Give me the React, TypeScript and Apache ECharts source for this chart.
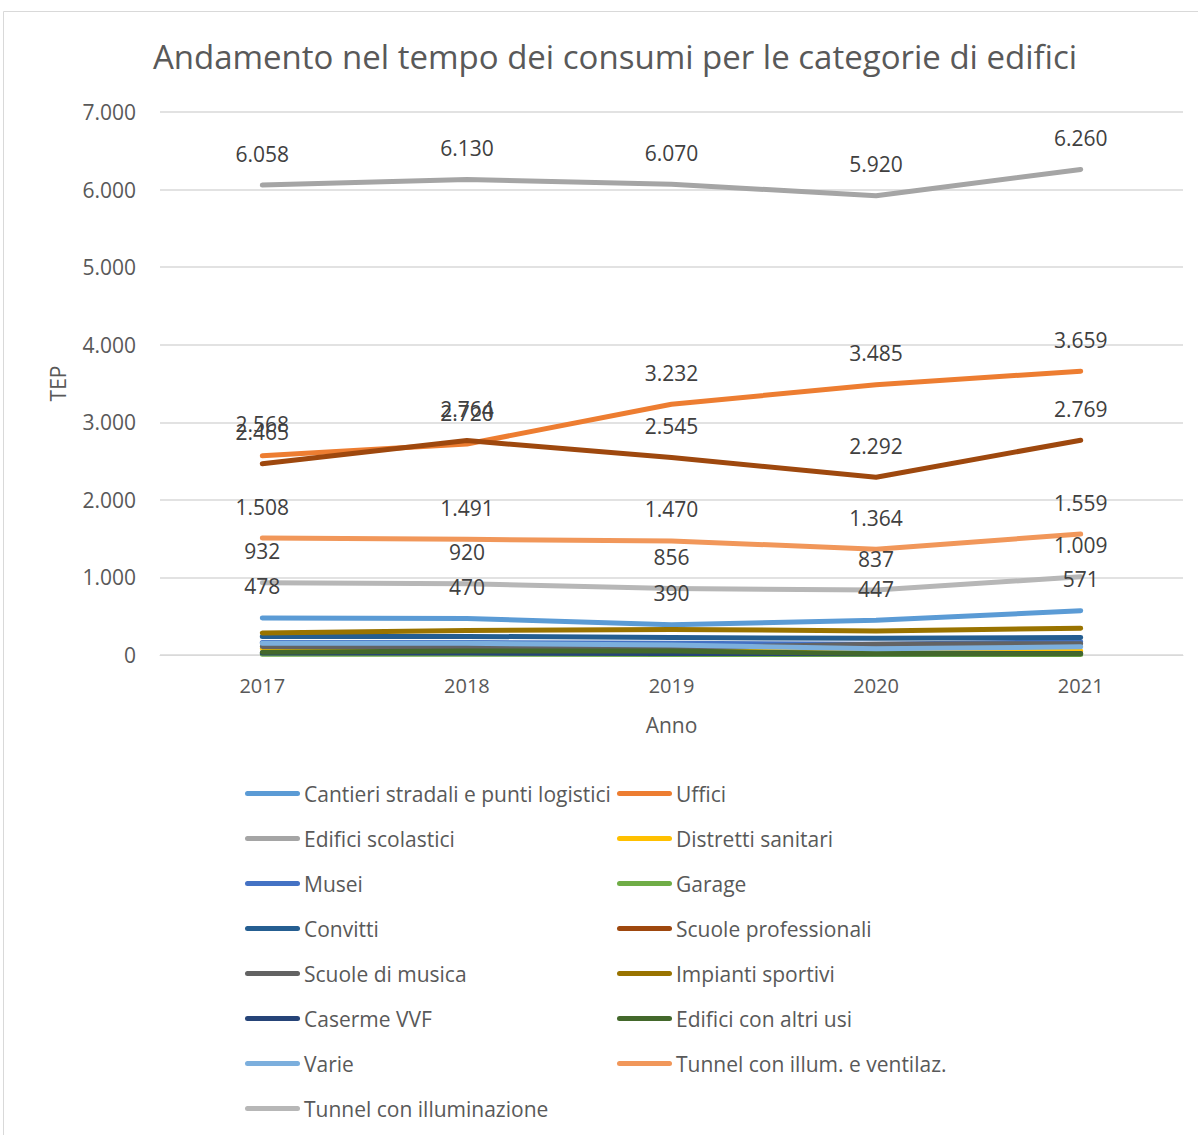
import React, { useEffect, useRef } from "react";
import * as echarts from "echarts";

const years = ["2017", "2018", "2019", "2020", "2021"];

const seriesNames = [
  "Cantieri stradali e punti logistici",
  "Uffici",
  "Edifici scolastici",
  "Distretti sanitari",
  "Musei",
  "Garage",
  "Convitti",
  "Scuole professionali",
  "Scuole di musica",
  "Impianti sportivi",
  "Caserme VVF",
  "Edifici con altri usi",
  "Varie",
  "Tunnel con illum. e ventilaz.",
  "Tunnel con illuminazione",
];

const cantieri = [478, 470, 390, 447, 571];
const uffici = [2568, 2720, 3232, 3485, 3659];
const edificiScolastici = [6058, 6130, 6070, 5920, 6260];
const distrettiSanitari = [85, 80, 60, 45, 50];
const musei = [160, 160, 150, 140, 170];
const garage = [10, 10, 8, 5, 5];
const convitti = [240, 240, 225, 215, 225];
const scuoleProfessionali = [2465, 2764, 2545, 2292, 2769];
const scuoleMusica = [110, 105, 90, 140, 145];
const impiantiSportivi = [285, 315, 330, 310, 345];
const caserme = [25, 25, 20, 15, 20];
const altriUsi = [35, 50, 50, 20, 15];
const varie = [150, 150, 130, 80, 105];
const tunnelVent = [1508, 1491, 1470, 1364, 1559];
const tunnelIllum = [932, 920, 856, 837, 1009];

const seriesValues = [
  cantieri,
  uffici,
  edificiScolastici,
  distrettiSanitari,
  musei,
  garage,
  convitti,
  scuoleProfessionali,
  scuoleMusica,
  impiantiSportivi,
  caserme,
  altriUsi,
  varie,
  tunnelVent,
  tunnelIllum,
];

const colors = [
  "#5B9BD5",
  "#ED7D31",
  "#A5A5A5",
  "#FFC000",
  "#4472C4",
  "#70AD47",
  "#255E91",
  "#9E480E",
  "#636363",
  "#997300",
  "#264478",
  "#43682B",
  "#7CAFDD",
  "#F1975A",
  "#B7B7B7",
];

const labelled = [
  true, true, true, false, false, false, false, true,
  false, false, false, false, false, true, true,
];

const yTicks = [0, 1000, 2000, 3000, 4000, 5000, 6000, 7000];

const FONT = "'Open Sans', 'DejaVu Sans', sans-serif";

function fmt(v: number): string {
  return String(Math.round(v)).replace(/\B(?=(\d{3})+(?!\d))/g, ".");
}

const capsule =
  "path://M2.5,0 L52.5,0 A2.5,2.5 0 0 1 52.5,5 L2.5,5 A2.5,2.5 0 0 1 2.5,0 Z";

export default function App() {
  const ref = useRef<HTMLDivElement>(null);

  useEffect(() => {
    if (!ref.current) return;
    const chart = echarts.init(ref.current, null, { renderer: "svg" });

    const legendCommon = {
      orient: "vertical" as const,
      icon: capsule,
      itemWidth: 55,
      itemHeight: 5,
      itemGap: 24,
      itemStyle: { opacity: 1 },
      textStyle: { fontFamily: FONT, fontSize: 21, color: "#595959", padding: [0, 0, 0, -1] },
      selectedMode: false,
      top: 778,
    };

    const option = {
      animation: false,
      backgroundColor: "#ffffff",
      color: colors,
      title: {
        text: "Andamento nel tempo dei consumi per le categorie di edifici",
        left: 610,
        textAlign: "center",
        top: 35,
        textStyle: {
          fontFamily: FONT,
          fontSize: 33,
          fontWeight: "normal",
          color: "#595959",
        },
      },
      graphic: [
        {
          type: "rect",
          shape: { x: 3.5, y: 11.5, width: 1400, height: 1400 },
          style: { fill: "none", stroke: "#D9D9D9", lineWidth: 1 },
          silent: true,
        },
      ],
      legend: [
        {
          ...legendCommon,
          left: 240,
          data: seriesNames.filter((_, i) => i % 2 === 0),
        },
        {
          ...legendCommon,
          left: 612,
          data: seriesNames.filter((_, i) => i % 2 === 1),
        },
      ],
      grid: { left: 160, right: 15, top: 112, height: 543 },
      xAxis: {
        type: "category",
        data: years,
        boundaryGap: true,
        name: "Anno",
        nameLocation: "middle",
        nameGap: 59,
        nameTextStyle: { fontFamily: FONT, fontSize: 21, color: "#595959" },
        axisLine: { show: true, lineStyle: { color: "#D9D9D9", width: 1 } },
        axisTick: { show: false },
        axisLabel: {
          fontFamily: FONT,
          fontSize: 20,
          color: "#595959",
          margin: 20,
        },
      },
      yAxis: {
        type: "value",
        min: yTicks[0],
        max: yTicks[yTicks.length - 1],
        interval: 1000,
        name: "TEP",
        nameLocation: "middle",
        nameGap: 92,
        nameRotate: 90,
        nameTextStyle: { fontFamily: FONT, fontSize: 21, color: "#595959" },
        axisLine: { show: false },
        axisTick: { show: false },
        splitLine: { lineStyle: { color: "#D9D9D9", width: 1.5 } },
        axisLabel: {
          fontFamily: FONT,
          fontSize: 21,
          color: "#595959",
          margin: 24,
          formatter: (v: number) => fmt(v),
        },
      },
      series: seriesNames.map((name, i) => ({
        name,
        type: "line",
        data: seriesValues[i],
        symbol: "circle",
        symbolSize: 0,
        showSymbol: true,
        lineStyle: { width: 5, color: colors[i], cap: "round", join: "round" },
        itemStyle: { color: colors[i] },
        label: labelled[i]
          ? {
              show: true,
              position: "top",
              distance: 21,
              fontFamily: FONT,
              fontSize: 21,
              color: "#404040",
              formatter: (p: any) => fmt(p.value),
            }
          : { show: false },
        emphasis: { disabled: true },
        z: 2,
      })),
    };

    chart.setOption(option as any);
    return () => chart.dispose();
  }, []);

  return (
    <div
      ref={ref}
      style={{ position: "fixed", left: 0, top: 0, width: 1198, height: 1135 }}
    />
  );
}
